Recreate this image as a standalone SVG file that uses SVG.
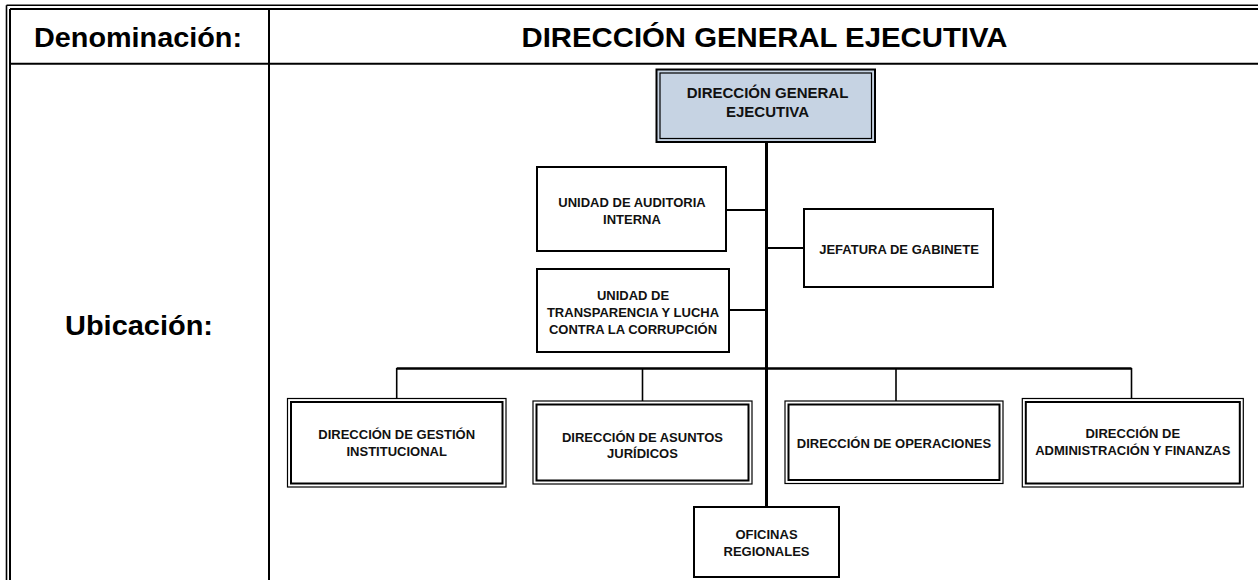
<svg xmlns="http://www.w3.org/2000/svg" width="1258" height="580" viewBox="0 0 1258 580">
<style>
.hdr{font-family:"Liberation Sans",Arial,sans-serif;font-weight:bold;font-size:28px;fill:#000;text-anchor:middle}
.t{font-family:"Liberation Sans",Arial,sans-serif;font-weight:bold;font-size:13px;fill:#111;text-anchor:middle}
.tb{font-family:"Liberation Sans",Arial,sans-serif;font-weight:bold;font-size:15px;fill:#111;text-anchor:middle}
.frame{stroke:#000;fill:none}
.box{fill:#fff;stroke:#000;stroke-width:2}
.dbo{fill:#fff;stroke:#000;stroke-width:1.2}
.dbi{fill:none;stroke:#000;stroke-width:2}
.ln{stroke:#000;fill:none}
</style>
<rect width="1258" height="580" fill="#fff"/>
<g id="frame">
<line class="frame" x1="6.5" y1="5.2" x2="6.5" y2="580" stroke-width="1.6"/>
<line class="frame" x1="6.5" y1="5.2" x2="1258" y2="5.2" stroke-width="1.6"/>
<line class="frame" x1="10" y1="9" x2="10" y2="580" stroke-width="2"/>
<line class="frame" x1="10" y1="9" x2="1258" y2="9" stroke-width="2"/>
<line class="frame" x1="269" y1="9" x2="269" y2="580" stroke-width="2"/>
<line class="frame" x1="10" y1="63.7" x2="1258" y2="63.7" stroke-width="2"/>
<text class="hdr" x="138" y="47" textLength="208" lengthAdjust="spacingAndGlyphs">Denominación:</text>
<text class="hdr" x="764.5" y="47" textLength="486" lengthAdjust="spacingAndGlyphs">DIRECCIÓN GENERAL EJECUTIVA</text>
<text class="hdr" x="139" y="335" textLength="148" lengthAdjust="spacingAndGlyphs">Ubicación:</text>
</g>
<g id="connectors">
<line class="ln" x1="766.5" y1="142" x2="766.5" y2="507" stroke-width="3"/>
<line class="ln" x1="726" y1="210" x2="766" y2="210" stroke-width="2"/>
<line class="ln" x1="729" y1="310" x2="766" y2="310" stroke-width="2"/>
<line class="ln" x1="767" y1="248" x2="804" y2="248" stroke-width="2"/>
<line class="ln" x1="396.7" y1="368.5" x2="1131.5" y2="368.5" stroke-width="2.3"/>
<line class="ln" x1="396.7" y1="368" x2="396.7" y2="398.5" stroke-width="1.6"/>
<line class="ln" x1="642.5" y1="368" x2="642.5" y2="401" stroke-width="1.6"/>
<line class="ln" x1="896" y1="368" x2="896" y2="401" stroke-width="1.6"/>
<line class="ln" x1="1131.5" y1="368" x2="1131.5" y2="398.5" stroke-width="1.6"/>
</g>
<g id="dge">
<rect x="656.5" y="69.5" width="218.5" height="72.5" fill="#c6d3e3" stroke="#000" stroke-width="2"/>
<rect x="660" y="73" width="211.5" height="65.5" fill="none" stroke="#000" stroke-width="1.2"/>
<text class="tb" x="767.5" y="98">DIRECCIÓN GENERAL</text>
<text class="tb" x="767.5" y="117">EJECUTIVA</text>
</g>
<g id="auditoria">
<rect class="box" x="537" y="167" width="189" height="84"/>
<text class="t" x="632" y="207">UNIDAD DE AUDITORIA</text>
<text class="t" x="632" y="223.5">INTERNA</text>
</g>
<g id="transparencia">
<rect class="box" x="537" y="269" width="192" height="83"/>
<text class="t" x="633" y="300">UNIDAD DE</text>
<text class="t" x="633" y="317">TRANSPARENCIA Y LUCHA</text>
<text class="t" x="633" y="334">CONTRA LA CORRUPCIÓN</text>
</g>
<g id="jefatura">
<rect class="box" x="804" y="209" width="189" height="78"/>
<text class="t" x="899" y="254">JEFATURA DE GABINETE</text>
</g>
<g id="gestion">
<rect class="dbo" x="287.5" y="398.5" width="218.5" height="88.5"/>
<rect class="dbi" x="291" y="402" width="211.5" height="81.5"/>
<text class="t" x="396.7" y="439">DIRECCIÓN DE GESTIÓN</text>
<text class="t" x="396.7" y="456">INSTITUCIONAL</text>
</g>
<g id="juridicos">
<rect class="dbo" x="533" y="401" width="219" height="83"/>
<rect class="dbi" x="536.5" y="404.5" width="212" height="76"/>
<text class="t" x="642.5" y="442">DIRECCIÓN DE ASUNTOS</text>
<text class="t" x="642.5" y="458">JURÍDICOS</text>
</g>
<g id="operaciones">
<rect class="dbo" x="785" y="401" width="218" height="82.5"/>
<rect class="dbi" x="788.5" y="404.5" width="211" height="75.5"/>
<text class="t" x="894" y="448">DIRECCIÓN DE OPERACIONES</text>
</g>
<g id="finanzas">
<rect class="dbo" x="1022.3" y="398.5" width="221" height="88.5"/>
<rect class="dbi" x="1025.8" y="402" width="214" height="81.5"/>
<text class="t" x="1132.8" y="438">DIRECCIÓN DE</text>
<text class="t" x="1132.8" y="455">ADMINISTRACIÓN Y FINANZAS</text>
</g>
<g id="oficinas">
<rect class="box" x="694" y="507" width="145" height="70"/>
<text class="t" x="766.5" y="539">OFICINAS</text>
<text class="t" x="766.5" y="556">REGIONALES</text>
</g>
</svg>
